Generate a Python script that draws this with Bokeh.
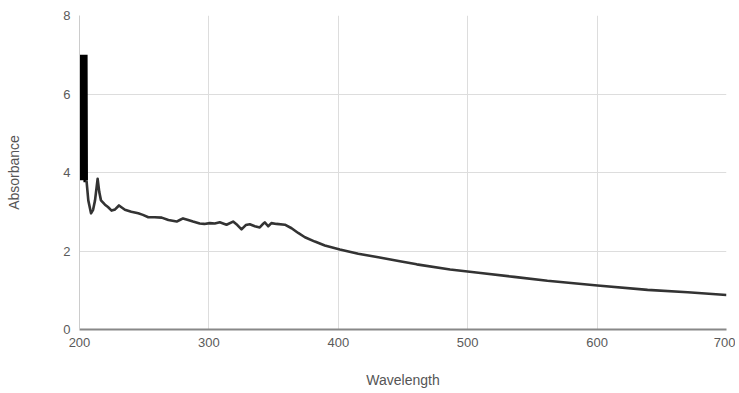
from bokeh.plotting import figure
from bokeh.models import FixedTicker
from bokeh.embed import file_html
from bokeh.resources import INLINE

# Noisy onset region (rapid oscillation near the instrument cutoff)
wl_spike = [200.0, 200.3, 200.6, 200.9, 201.2, 201.5, 201.8, 202.1, 202.4, 202.7, 203.0,
            203.3, 203.6, 203.9, 204.2, 204.5, 204.8, 205.1, 205.4]
abs_spike = [3.8, 7.0, 3.85, 7.0, 3.8, 7.0, 3.9, 7.0, 3.8, 7.0, 3.85,
             7.0, 3.8, 7.0, 3.75, 7.0, 3.8, 7.0, 3.8]

# Main spectrum
wavelength = [205.4, 206.8, 208.9, 210.5, 212.0, 214.0, 215.3, 216.6, 219.7, 222.0, 224.8,
              227.5, 230.5, 235.1, 240.0, 245.4, 249.0, 253.2, 258.0, 263.5, 268.7, 275.1,
              277.5, 280.0, 284.0, 287.7, 292.9, 296.5, 300.7, 304.5,
              308.4, 313.6, 318.7, 322.0, 325.2, 328.5, 331.6, 335.5, 339.3, 341.5, 343.2,
              345.8, 348.3, 352.2, 358.7, 363.9, 369.0, 374.2, 381.9, 389.6, 401.2, 415.4,
              430.9, 447.6, 460.6, 486.4, 510.0, 535.8, 561.6, 600.3, 639.0, 670.0, 700.0]
absorbance = [3.8, 3.29, 2.96, 3.05, 3.29, 3.84, 3.5, 3.29, 3.18, 3.12, 3.03,
              3.06, 3.16, 3.05, 3.0, 2.96, 2.92, 2.86, 2.86, 2.85, 2.79, 2.75,
              2.79, 2.83, 2.79, 2.75, 2.7, 2.69, 2.71, 2.7,
              2.73, 2.67, 2.75, 2.66, 2.55, 2.66, 2.68, 2.63, 2.6, 2.68, 2.73,
              2.63, 2.71, 2.69, 2.67, 2.58, 2.46, 2.35, 2.24, 2.14, 2.04, 1.93,
              1.84, 1.74, 1.66, 1.53, 1.44, 1.34, 1.24, 1.12, 1.01, 0.95, 0.88]

x_ticks = [200, 300, 400, 500, 600, 700]
y_ticks = [0, 2, 4, 6, 8]

p = figure(width=735, height=390, output_backend="svg", toolbar_location=None,
           x_range=(200, 700), y_range=(0, 8),
           min_border_left=79, min_border_right=9, min_border_top=15, min_border_bottom=61,
           x_axis_label="Wavelength", y_axis_label="Absorbance")

p.line(wl_spike, abs_spike, line_color="#000000", line_width=3)
p.line(wavelength, absorbance, line_color="#333333", line_width=2.6, line_join="round")

p.outline_line_color = None
p.xaxis.ticker = FixedTicker(ticks=x_ticks)
p.yaxis.ticker = FixedTicker(ticks=y_ticks)
p.xgrid.ticker = FixedTicker(ticks=x_ticks)
p.ygrid.ticker = FixedTicker(ticks=y_ticks)
p.grid.grid_line_color = "#dddddd"
p.grid.grid_line_width = 1

for ax in (p.xaxis, p.yaxis):
    ax.major_tick_line_color = None
    ax.minor_tick_line_color = None
    ax.major_tick_out = 0
    ax.major_tick_in = 0
    ax.minor_tick_out = 0
    ax.minor_tick_in = 0
    ax.major_label_text_font = "Liberation Sans"
    ax.major_label_text_font_size = "13px"
    ax.major_label_text_color = "#5a5a5a"
    ax.axis_label_text_font = "Liberation Sans"
    ax.axis_label_text_font_size = "14px"
    ax.axis_label_text_font_style = "normal"
    ax.axis_label_text_color = "#555555"

p.xaxis.axis_line_color = "#888888"
p.xaxis.axis_line_width = 2
p.yaxis.axis_line_color = "#cccccc"
p.xaxis.major_label_standoff = 8
p.yaxis.major_label_standoff = 9
p.xaxis.axis_label_standoff = 22
p.yaxis.axis_label_standoff = 38

open("out.html", "w").write(file_html(p, INLINE))
